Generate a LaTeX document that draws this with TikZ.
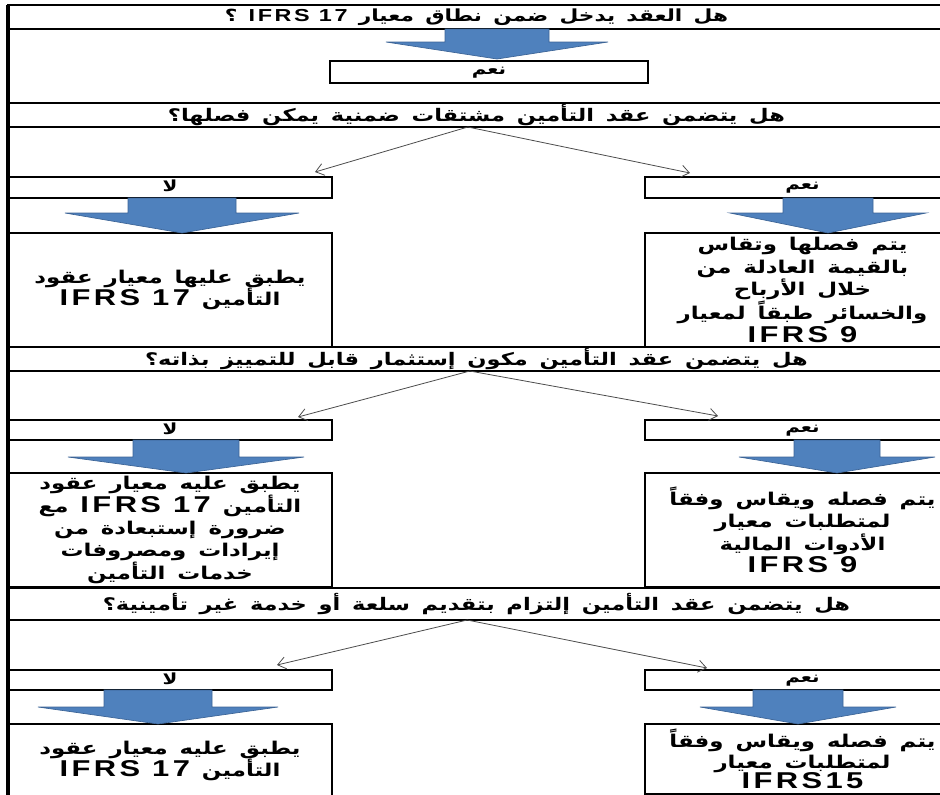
\documentclass[tikz,border=0pt]{standalone}
\usepackage{fontspec}
\usepackage{tikz}
\usetikzlibrary{calc,positioning,arrows,arrows.meta,shapes}
\newfontfamily\arabicfont[Script=Arabic, FakeStretch=1.3, WordSpace=1.5]{DejaVu Sans}
\newfontfamily\latinfont[UprightFont={* Bold}, BoldFont={* Bold}, FakeStretch=1.35, LetterSpace=15, Scale=1.3]{Liberation Sans}
\TeXXeTstate=1
\definecolor{arrowblue}{RGB}{79,129,189}
\definecolor{arrowedge}{RGB}{60,100,150}
\newcommand{\rtl}[1]{\beginR #1\endR}
\newcommand{\ltr}[1]{\beginL{\latinfont #1}\endL}
\newcommand{\ltrq}[1]{\beginL{\latinfont\fontsize{10}{12}\selectfont #1}\endL}
% big blue arrow: x, top, shoulder, tip, half shaft, half head
\newcommand{\bigarrow}[6]{%
  \filldraw[blockarrow] (#1-#5,#2) -- (#1+#5,#2) -- (#1+#5,#3) -- (#1+#6,#3)
    -- (#1,#4) -- (#1-#6,#3) -- (#1-#5,#3) -- cycle;}

\begin{document}
\begin{tikzpicture}[x=0.75pt,y=-0.75pt]
  \tikzset{
      box/.style 2 args={rectangle, anchor=north west, inner sep=0pt, outer sep=0pt,
        minimum width=#1*0.75pt, minimum height=#2*0.75pt},
      question/.style={draw=black, line width=1.3pt, align=center,
        font=\arabicfont\bfseries\fontsize{13}{15}\selectfont},
      answer/.style={draw=black, line width=1.6pt, align=center, text depth=0.5ex,
        font=\arabicfont\bfseries\fontsize{11.5}{12}\selectfont},
      result/.style={draw=black, line width=1.6pt, align=center,
        font=\arabicfont\bfseries\fontsize{13.2}{16.8}\selectfont},
      myarrow/.style={draw=black!70, line width=0.6pt, -{Straight Barb[length=6pt,width=9pt]}},
      blockarrow/.style={fill=arrowblue, draw=arrowedge, line width=0.5pt},
      spine/.style={draw=black, line width=2.6pt},
  }
  \useasboundingbox (0,0) rectangle (940,794);
  \clip (0,0) rectangle (940,794);

  \node[question, box={937}{24}, font=\arabicfont\bfseries\fontsize{12.5}{15}\selectfont] (q1) at (8,5) {\rtl{هل العقد يدخل ضمن نطاق معيار \ltrq{IFRS 17} ؟}};
  \node[answer, box={318}{22}] (yes0) at (330,61) {\rtl{نعم}};

  \node[question, box={937}{24}] (q2) at (8,103) {\rtl{هل يتضمن عقد التأمين مشتقات ضمنية يمكن فصلها؟}};
    \node[answer, box={324}{21}] (no1) at (8,177) {\rtl{لا}};
    \node[answer, box={315}{21}] (yes1) at (645,177) {\rtl{نعم}};
    \node[result, box={324}{114}] (res1no) at (8,233) {\rtl{يطبق عليها معيار عقود}\\ \rtl{التأمين \ltr{IFRS 17}}};
    \node[result, box={315}{114}] (res1yes) at (645,233) {\rtl{يتم فصلها وتقاس}\\ \rtl{بالقيمة العادلة من}\\ \rtl{خلال الأرباح}\\ \rtl{والخسائر طبقاً لمعيار}\\ \ltr{IFRS 9}};

  \node[question, box={937}{24}] (q3) at (8,347) {\rtl{هل يتضمن عقد التأمين مكون إستثمار قابل للتمييز بذاته؟}};
    \node[answer, box={324}{20}] (no2) at (8,420) {\rtl{لا}};
    \node[answer, box={315}{20}] (yes2) at (645,420) {\rtl{نعم}};
    \node[result, box={324}{114}] (res2no) at (8,473) {\rtl{يطبق عليه معيار عقود}\\ \rtl{التأمين \ltr{IFRS 17} مع}\\ \rtl{ضرورة إستبعادة من}\\ \rtl{إيرادات ومصروفات}\\ \rtl{خدمات التأمين}};
    \node[result, box={315}{114}] (res2yes) at (645,473) {\rtl{يتم فصله ويقاس وفقاً}\\ \rtl{لمتطلبات معيار}\\ \rtl{الأدوات المالية}\\ \ltr{IFRS 9}};

  \node[question, box={937}{32}] (q4) at (8,588) {\rtl{هل يتضمن عقد التأمين إلتزام بتقديم سلعة أو خدمة غير تأمينية؟}};
    \node[answer, box={324}{20}] (no3) at (8,670) {\rtl{لا}};
    \node[answer, box={315}{20}] (yes3) at (645,670) {\rtl{نعم}};
    \node[result, box={324}{74}] (res3no) at (8,724) {\rtl{يطبق عليه معيار عقود}\\ \rtl{التأمين \ltr{IFRS 17}}};
    \node[result, box={315}{70}, font=\arabicfont\bfseries\fontsize{13.2}{15.5}\selectfont] (res3yes) at (645,724) {\rtl{يتم فصله ويقاس وفقاً}\\ \rtl{لمتطلبات معيار}\\ \ltr{IFRS15}};

  \path[spine] (q1.north west) -- (res3no.south west);

  % blue block arrows
  \bigarrow{497}{29}{42}{59}{52}{111}
  \bigarrow{182}{198}{213}{233}{54}{117}
  \bigarrow{828}{198}{213}{233}{45}{98}
  \bigarrow{186}{440}{457}{473}{53}{118}
  \bigarrow{837}{440}{457}{473}{43}{98}
  \bigarrow{158}{690}{707}{724}{54}{120}
  \bigarrow{798}{690}{707}{724}{45}{98}

  \path[myarrow] ([xshift=-6.5pt]q2.south) -- ([xshift=-12.75pt,yshift=3.75pt]no1.north east);
  \path[myarrow] ([xshift=-6.5pt]q2.south) -- ([xshift=33.75pt,yshift=3pt]yes1.north west);
  \path[myarrow] ([xshift=-5pt]q3.south) -- ([xshift=-25.5pt,yshift=2.25pt]no2.north east);
  \path[myarrow] ([xshift=-5pt]q3.south) -- ([xshift=54.75pt,yshift=3pt]yes2.north west);
  \path[myarrow] ([xshift=-7pt]q4.south) -- ([xshift=-41.25pt,yshift=3.75pt]no3.north east);
  \path[myarrow] ([xshift=-7pt]q4.south) -- ([xshift=46.5pt,yshift=1.5pt]yes3.north west);
\end{tikzpicture}
\end{document}
